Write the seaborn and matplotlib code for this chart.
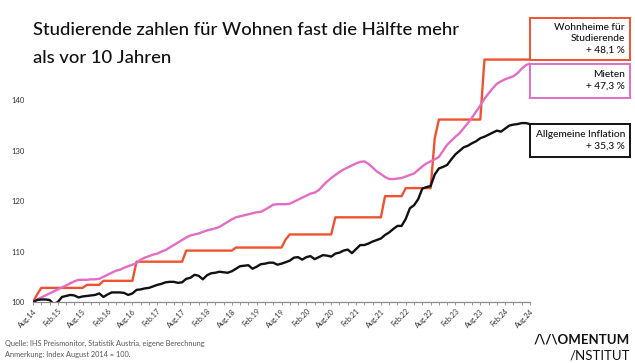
import numpy as np
import pandas as pd
import matplotlib.pyplot as plt
import matplotlib.patches as mpatches
from matplotlib.transforms import IdentityTransform
import seaborn as sns

# Monthly index values, Aug 2014 = 100 (Aug 2014 ... Aug 2024)
wohnheime = [
    100.0, 101.5, 102.8, 102.8, 102.8, 102.8, 102.8, 102.8, 102.8, 102.8, 102.8, 102.8,
    102.8, 103.4, 103.4, 103.4, 103.4, 104.2, 104.2, 104.2, 104.2, 104.2, 104.2, 104.2,
    104.2, 108.0, 108.0, 108.0, 108.0, 108.0, 108.0, 108.0, 108.0, 108.0, 108.0, 108.0,
    108.0, 110.2, 110.2, 110.2, 110.2, 110.2, 110.2, 110.2, 110.2, 110.2, 110.2, 110.2,
    110.2, 110.8, 110.8, 110.8, 110.8, 110.8, 110.8, 110.8, 110.8, 110.8, 110.8, 110.8,
    110.8, 112.4, 113.4, 113.4, 113.4, 113.4, 113.4, 113.4, 113.4, 113.4, 113.4, 113.4,
    113.4, 116.8, 116.8, 116.8, 116.8, 116.8, 116.8, 116.8, 116.8, 116.8, 116.8, 116.8,
    116.8, 121.0, 121.0, 121.0, 121.0, 121.0, 122.6, 122.6, 122.6, 122.6, 122.6, 122.6,
    122.6, 132.5, 136.2, 136.2, 136.2, 136.2, 136.2, 136.2, 136.2, 136.2, 136.2, 136.2,
    136.2, 148.1, 148.1, 148.1, 148.1, 148.1, 148.1, 148.1, 148.1, 148.1, 148.1, 148.1,
    148.1,
]
mieten = [
    100.0, 100.5, 100.9, 101.3, 101.7, 102.1, 102.5, 102.9, 103.3, 103.7, 104.1, 104.4,
    104.4, 104.4, 104.5, 104.5, 104.6, 105.0, 105.4, 105.8, 106.2, 106.4, 106.8, 107.1,
    107.4, 107.7, 108.4, 108.8, 109.1, 109.4, 109.6, 110.0, 110.3, 110.8, 111.3, 111.8,
    112.3, 112.8, 113.2, 113.4, 113.6, 113.9, 114.2, 114.4, 114.6, 114.9, 115.4, 115.9,
    116.4, 116.8, 117.0, 117.2, 117.4, 117.6, 117.8, 117.9, 118.3, 118.8, 119.3, 119.4,
    119.4, 119.4, 119.5, 119.9, 120.3, 120.7, 121.1, 121.5, 121.7, 122.2, 123.1, 123.9,
    124.6, 125.2, 125.8, 126.3, 126.7, 127.1, 127.5, 127.8, 127.9, 127.4, 126.7, 125.9,
    125.4, 124.8, 124.4, 124.4, 124.5, 124.6, 124.9, 125.2, 125.5, 126.2, 126.9, 127.5,
    127.9, 128.3, 128.8, 130.0, 131.2, 132.0, 132.8, 133.5, 134.5, 135.5, 136.6, 137.8,
    139.0, 140.3, 141.4, 142.4, 143.3, 143.8, 144.2, 144.5, 144.8, 145.4, 146.3, 147.0,
    147.3,
]
inflation = [
    100.0, 100.4, 100.5, 100.5, 100.4, 99.6, 100.0, 101.0, 101.2, 101.4, 101.3, 100.9,
    101.1, 101.2, 101.3, 101.4, 101.7, 101.0, 101.5, 101.9, 101.9, 101.9, 101.8, 101.4,
    101.7, 102.4, 102.5, 102.7, 102.8, 103.1, 103.4, 103.6, 103.9, 104.0, 104.0, 103.8,
    103.9, 104.6, 104.8, 105.4, 105.2, 104.5, 105.3, 105.7, 105.8, 106.0, 105.9, 105.8,
    106.1, 106.6, 107.1, 107.2, 107.3, 106.6, 107.0, 107.5, 107.6, 107.8, 107.8, 107.4,
    107.6, 107.9, 108.2, 108.8, 108.9, 108.4, 108.9, 109.1, 108.5, 108.9, 109.3, 109.2,
    109.0, 109.6, 109.8, 110.2, 110.4, 109.7, 110.5, 111.3, 111.3, 111.6, 112.0, 112.3,
    112.6, 113.3, 113.8, 114.5, 115.1, 115.1, 116.5, 118.6, 119.2, 120.4, 122.5, 122.8,
    123.0, 125.3, 126.5, 126.8, 127.2, 128.3, 129.3, 130.0, 130.7, 131.0, 131.5, 131.9,
    132.5, 132.8, 133.2, 133.6, 134.0, 133.8, 134.4, 135.0, 135.2, 135.3, 135.5, 135.5,
    135.3,
]

tick_labels = ['Aug.14', 'Feb.15', 'Aug.15', 'Feb.16', 'Aug.16', 'Feb.17', 'Aug.17',
               'Feb.18', 'Aug.18', 'Feb.19', 'Aug.19', 'Feb.20', 'Aug.20', 'Feb.21',
               'Aug.21', 'Feb.22', 'Aug.22', 'Feb.23', 'Aug.23', 'Feb.24', 'Aug.24']
y_ticks = [100, 110, 120, 130, 140]

series = ['Wohnheime für\nStudierende', 'Mieten', 'Allgemeine Inflation']
changes = ['+ 48,1 %', '+ 47,3 %', '+ 35,3 %']
colors = ['#EE5230', '#E36DC6', '#111111']

title_1 = 'Studierende zahlen für Wohnen fast die Hälfte mehr'
title_2 = 'als vor 10 Jahren'
source = 'Quelle: IHS Preismonitor, Statistik Austria, eigene Berechnung'
note = 'Anmerkung: Index August 2014 = 100.'

# long-form table for seaborn
values = [wohnheime, mieten, inflation]
df = pd.concat([
    pd.DataFrame({'month': np.arange(len(v)), 'index': v, 'series': name})
    for name, v in zip(series, values)
])

sns.set_theme(style='white')
plt.rcParams['font.family'] = ['Lato', 'DejaVu Sans']

W, H = 635, 363
fig = plt.figure(figsize=(W / 100, H / 100), dpi=100)
ax = fig.add_axes([33 / W, (H - 302) / H, 497 / W, 252 / H])

sns.lineplot(data=df, x='month', y='index', hue='series', hue_order=series,
             palette=dict(zip(series, colors)), linewidth=1.7, legend=False, ax=ax)

n = len(inflation) - 1
ax.set_xlim(0, n)
ax.set_ylim(100, 150)
ax.set_xlabel('')
ax.set_ylabel('')

for side in ['top', 'right', 'left']:
    ax.spines[side].set_visible(False)
ax.spines['bottom'].set_color('#8a8a8a')
ax.spines['bottom'].set_linewidth(0.9)

ax.set_xticks(np.arange(0, n + 1, 6))
ax.set_xticks(np.arange(0, n + 1, 2), minor=True)
ax.set_xticklabels(tick_labels, rotation=45, ha='right', rotation_mode='anchor',
                   fontsize=5.2, color='#333333')
ax.tick_params(axis='x', which='both', bottom=True, length=2, width=0.6,
               color='#8a8a8a', pad=2)
ax.set_yticks(y_ticks)
ax.set_yticklabels([str(t) for t in y_ticks], fontsize=5.5, color='#333333')
ax.tick_params(axis='y', length=0, pad=6)

# boxes at the end of each line
box_w = 100
px = lambda v: ax.transData.transform((n, v))
x0, yo = px(wohnheime[-1])
boxes = [
    (yo, 42),                          # orange: sits on top of line end
    (px(mieten[-1])[1] - 34, 34),      # pink: hangs below line end
    (px(inflation[-1])[1] - 33, 33),   # black: hangs below line end
]
for (yb, h), c, name, chg in zip(boxes, colors, series, changes):
    fig.add_artist(mpatches.Rectangle((x0, yb), box_w, h, fill=False, edgecolor=c,
                                      linewidth=1.4, transform=IdentityTransform(),
                                      clip_on=False))
    fig.text((x0 + box_w - 5) / W, (yb + h / 2) / H, name + '\n' + chg,
             ha='right', va='center', fontsize=7.3, linespacing=1.35,
             fontweight='medium', color='#111111')

# title
fig.text(33 / W, 1 - 35 / H, title_1, fontsize=13.3, fontweight='medium', color='#111111')
fig.text(33 / W, 1 - 63 / H, title_2, fontsize=13.3, fontweight='medium', color='#111111')

# footer
fig.text(5 / W, 1 - 346 / H, source, fontsize=5.3, color='#555555')
fig.text(5 / W, 1 - 357 / H, note, fontsize=5.3, color='#555555')

# logo
fig.text(630 / W, 1 - 344 / H, '/\\/\\OMENTUM', ha='right', fontsize=9.5,
         fontweight='bold', color='#111111')
fig.text(630 / W, 1 - 359 / H, '/NSTITUT', ha='right', fontsize=9.5, color='#111111')

fig.savefig('out.png', dpi=100)
